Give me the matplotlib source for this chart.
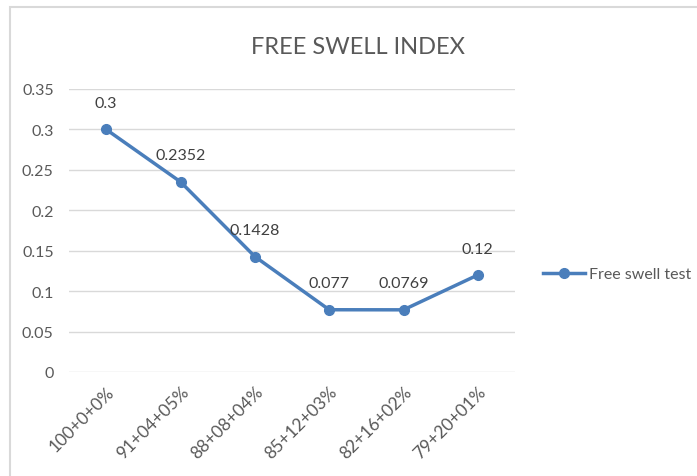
import matplotlib.pyplot as plt
from matplotlib.patches import Rectangle

mixes = ["100+0+0%", "91+04+05%", "88+08+04%", "85+12+03%", "82+16+02%", "79+20+01%"]
swell = [0.3, 0.2352, 0.1428, 0.077, 0.0769, 0.12]
point_labels = ["0.3", "0.2352", "0.1428", "0.077", "0.0769", "0.12"]
yticks = [0, 0.05, 0.1, 0.15, 0.2, 0.25, 0.3, 0.35]

plt.rcParams['font.family'] = ['Lato', 'DejaVu Sans']
txt = "#595959"
blue = "#4A7EBB"

fig = plt.figure(figsize=(6.97, 4.77), dpi=100)
ax = fig.add_axes([69/697, 1 - 373/477, 446/697, 283/477])

# chart frame
fig.patches.append(Rectangle((10/697, -0.1), 1.2, 1 - 8/477 + 0.1, transform=fig.transFigure,
                             fill=False, edgecolor="#d9d9d9", linewidth=1.5))

x = list(range(len(mixes)))
ax.plot(x, swell, color=blue, linewidth=2.5, marker="o", markersize=7, label="Free swell test")
for xi, yi, lab in zip(x, swell, point_labels):
    ax.annotate(lab, (xi, yi), xytext=(0, 19), textcoords="offset points",
                ha="center", va="center", fontsize=11.5, color="#404040")

ax.set_xlim(-0.5, len(mixes) - 0.5)
ax.set_ylim(0, 0.35)
ax.set_yticks(yticks)
ax.set_yticklabels(["0", "0.05", "0.1", "0.15", "0.2", "0.25", "0.3", "0.35"])
ax.set_xticks(x)
ax.set_xticklabels(mixes, rotation=45, ha="right", rotation_mode="anchor")
ax.tick_params(axis="y", length=0, labelsize=11.5, labelcolor=txt, pad=11)
ax.tick_params(axis="x", length=0, labelsize=12.5, labelcolor=txt, pad=8)
ax.grid(axis="y", color="#d9d9d9", linewidth=1)
ax.set_axisbelow(True)
for s in ax.spines.values():
    s.set_visible(False)

fig.text(358/697, 1 - 47/477, "FREE SWELL INDEX", ha="center", va="center", fontsize=17, color=txt)

ax.legend(loc="center left", bbox_to_anchor=(540/697, 1 - 275/477), bbox_transform=fig.transFigure,
          frameon=False, fontsize=11.5, labelcolor=txt, handlelength=2.6, handletextpad=0.25,
          borderaxespad=0, borderpad=0.2)

fig.savefig("out.png", dpi=100)
